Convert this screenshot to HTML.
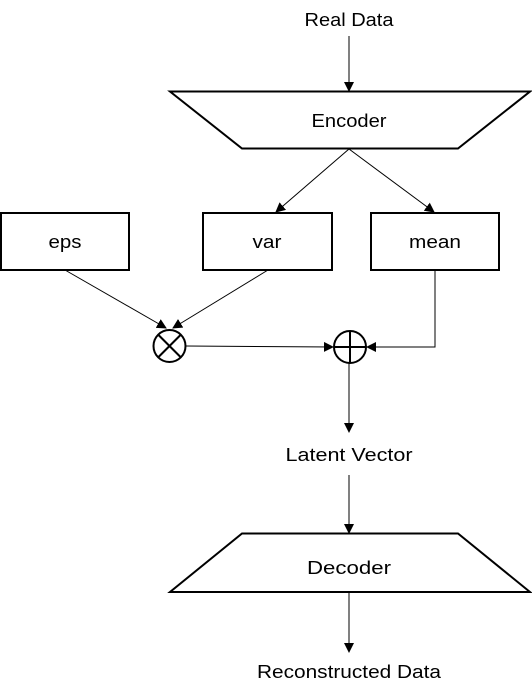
<!DOCTYPE html>
<html><head><meta charset="utf-8"><style>
html,body{margin:0;padding:0;background:#fff;}
svg{display:block;}
text{font-family:"Liberation Sans","Noto Sans CJK KR",sans-serif;font-size:18px;fill:#000;}
</style></head><body>
<svg width="532" height="698" viewBox="0 0 532 698" xmlns="http://www.w3.org/2000/svg">
<defs>
<marker id="a" markerWidth="10" markerHeight="10" refX="9" refY="5" orient="auto" markerUnits="userSpaceOnUse">
<path d="M0,0 L10,5 L0,10 z" fill="#000"/></marker>
</defs>
<g stroke="#000" fill="none">
<text x="349" y="26" text-anchor="middle" stroke="none" textLength="89" lengthAdjust="spacingAndGlyphs">Real Data</text>
<line x1="349" y1="36" x2="349" y2="91" marker-end="url(#a)"/>
<polygon points="170,91.5 530,91.5 458,148.5 242,148.5" fill="#fff" stroke-width="2"/>
<text x="349" y="127" text-anchor="middle" stroke="none" textLength="75" lengthAdjust="spacingAndGlyphs">Encoder</text>
<line x1="349" y1="149" x2="276" y2="212" marker-end="url(#a)"/>
<line x1="349" y1="149" x2="434" y2="212" marker-end="url(#a)"/>
<rect x="1" y="213" width="128" height="57" stroke-width="2"/>
<rect x="203" y="213" width="129" height="57" stroke-width="2"/>
<rect x="371" y="213" width="128" height="57" stroke-width="2"/>
<text x="65" y="248" text-anchor="middle" stroke="none" textLength="33" lengthAdjust="spacingAndGlyphs">eps</text>
<text x="267" y="248" text-anchor="middle" stroke="none" textLength="29" lengthAdjust="spacingAndGlyphs">var</text>
<text x="435" y="248" text-anchor="middle" stroke="none" textLength="52" lengthAdjust="spacingAndGlyphs">mean</text>
<line x1="65" y1="270" x2="166" y2="328" marker-end="url(#a)"/>
<line x1="268" y1="270" x2="173" y2="328" marker-end="url(#a)"/>
<circle cx="169.5" cy="346" r="16" stroke-width="2"/>
<line x1="158" y1="334.5" x2="181" y2="357.5" stroke-width="2"/>
<line x1="181" y1="334.5" x2="158" y2="357.5" stroke-width="2"/>
<line x1="186" y1="346" x2="333" y2="347" marker-end="url(#a)"/>
<circle cx="350" cy="347" r="16" stroke-width="2"/>
<line x1="334" y1="347" x2="366" y2="347" stroke-width="2"/>
<line x1="350" y1="331" x2="350" y2="363" stroke-width="2"/>
<polyline points="435,270 435,347 367,347" marker-end="url(#a)"/>
<line x1="349" y1="363" x2="349" y2="432" marker-end="url(#a)"/>
<text x="349" y="461" text-anchor="middle" stroke="none" textLength="127" lengthAdjust="spacingAndGlyphs">Latent Vector</text>
<line x1="349" y1="475" x2="349" y2="533" marker-end="url(#a)"/>
<polygon points="242,533.5 458,533.5 530,592 170,592" fill="#fff" stroke-width="2"/>
<text x="349" y="574" text-anchor="middle" stroke="none" textLength="84" lengthAdjust="spacingAndGlyphs">Decoder</text>
<line x1="349" y1="593" x2="349" y2="652" marker-end="url(#a)"/>
<text x="349" y="678" text-anchor="middle" stroke="none" textLength="184" lengthAdjust="spacingAndGlyphs">Reconstructed Data</text>
</g>
</svg>
</body></html>
